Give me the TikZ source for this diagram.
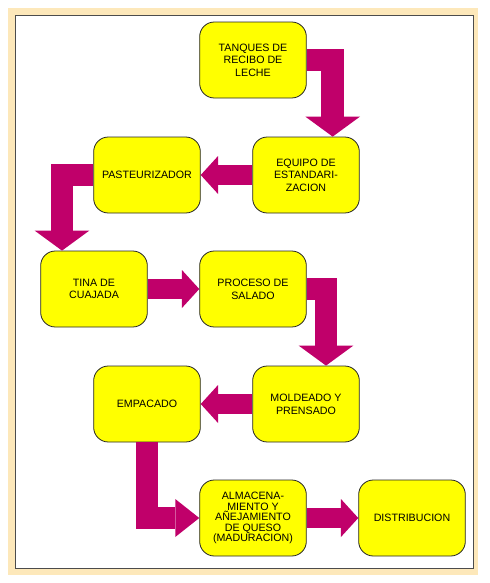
\documentclass[tikz,border=0pt]{standalone}
\usepackage{fontspec}
\setmainfont{Liberation Sans}
\usetikzlibrary{arrows.meta}
\usetikzlibrary{positioning}

\definecolor{amarillo}{RGB}{255,255,0}
\definecolor{vino}{RGB}{192,0,106}
\definecolor{marco}{RGB}{253,232,186}

\begin{document}
\begin{tikzpicture}
  [x=0.75pt, y=-0.75pt,
   caja/.style={draw=black!85, line width=0.6pt, fill=amarillo, rounded corners=11pt,
       minimum width=80pt, minimum height=57pt, align=center, inner sep=2pt,
       font=\fontsize{8}{9.5}\selectfont},
   flecha/.style={draw=vino, line width=14.5pt},
   puntav/.style={flecha, line width=17pt, -{Triangle[width=41pt, length=15pt, line width=0pt]}},
   puntah/.style={flecha, -{Triangle[width=28.5pt, length=13pt, line width=0pt]}},
  ]
  \useasboundingbox (0,0) rectangle (490,583);
  \fill[marco] (8,8) rectangle (478,575);
  \filldraw[fill=white, draw=black!70, line width=0.6pt] (15,15) rectangle (473,568);

  \node[caja] (tanques)  at (253,60)  {TANQUES DE\\RECIBO DE\\LECHE};
  \node[caja] (equipo)   at (306,175) {EQUIPO DE\\ESTANDARI-\\ZACION};
  \node[caja] (pasteur)  at (147,175) {PASTEURIZADOR};
  \node[caja] (tina)     at (94,289)  {TINA DE\\CUAJADA};
  \node[caja] (proceso)  at (253,289) {PROCESO DE\\SALADO};
  \node[caja] (moldeado) at (306,404) {MOLDEADO Y\\PRENSADO};
  \node[caja] (empacado) at (147,404) {EMPACADO};
  \node[caja, font=\fontsize{8}{7.8}\selectfont] (almacena) at (253,518)
       {ALMACENA-\\MIENTO Y\\AÑEJAMIENTO\\DE QUESO\\(MADURACION)};
  \node[caja] (distrib)  at (412,518) {DISTRIBUCION};

  \draw[puntav] (tanques.east) -| ([xshift=20pt]equipo.north);
  \draw[puntah] (equipo.west) -- (pasteur.east);
  \draw[puntav] (pasteur.west) -| ([xshift=-24pt]tina.north);
  \draw[puntah] (tina.east) -- (proceso.west);
  \draw[puntav] (proceso.east) -| ([xshift=15pt]moldeado.north);
  \draw[puntah] (moldeado.west) -- (empacado.east);
  \draw[puntah, line width=17pt, -{Triangle[width=28.5pt, length=18pt, line width=0pt]}]
       (empacado.south) |- (almacena.west);
  \draw[puntah] (almacena.east) -- (distrib.west);
\end{tikzpicture}
\end{document}
